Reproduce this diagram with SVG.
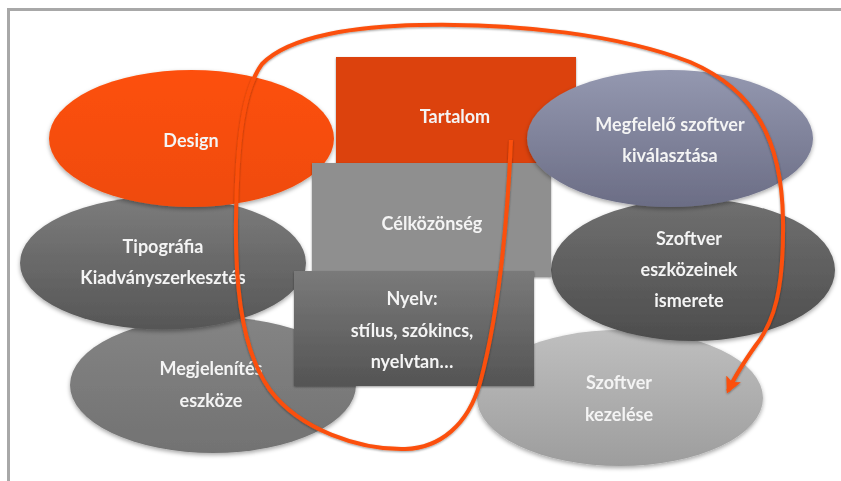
<svg xmlns="http://www.w3.org/2000/svg" width="841" height="481" viewBox="0 0 841 481">
<defs>
<style>
.t{font-family:Lato,"Open Sans","Liberation Sans",sans-serif;font-weight:700;font-size:18px;fill:#f4f4f4;text-anchor:middle}
</style>
<linearGradient id="gBlue" x1="0" y1="0" x2="0" y2="1"><stop offset="0" stop-color="#9498b0"/><stop offset="1" stop-color="#6b6d85"/></linearGradient>
<linearGradient id="gTip" x1="0" y1="0" x2="0" y2="1"><stop offset="0" stop-color="#7c7c7c"/><stop offset="1" stop-color="#565656"/></linearGradient>
<linearGradient id="gEsz" x1="0" y1="0" x2="0" y2="1"><stop offset="0" stop-color="#707070"/><stop offset="1" stop-color="#4d4d4d"/></linearGradient>
<linearGradient id="gMeg" x1="0" y1="0" x2="0" y2="1"><stop offset="0" stop-color="#848484"/><stop offset="1" stop-color="#727272"/></linearGradient>
<linearGradient id="gKez" x1="0" y1="0" x2="0" y2="1"><stop offset="0" stop-color="#bfbfbf"/><stop offset="1" stop-color="#9d9d9d"/></linearGradient>
<linearGradient id="gNy" x1="0" y1="0" x2="0" y2="1"><stop offset="0" stop-color="#7a7a7a"/><stop offset="1" stop-color="#545454"/></linearGradient>
<linearGradient id="gDes" x1="0" y1="0" x2="0" y2="1"><stop offset="0" stop-color="#fd500a"/><stop offset="1" stop-color="#ef4b0c"/></linearGradient>
<filter id="sh" x="-10%" y="-10%" width="120%" height="130%"><feDropShadow dx="0" dy="2" stdDeviation="2" flood-color="#000" flood-opacity="0.35"/></filter>
<filter id="lsh" x="-10%" y="-10%" width="120%" height="120%"><feDropShadow dx="0" dy="1" stdDeviation="1" flood-color="#000" flood-opacity="0.4"/></filter>
<marker id="arr" viewBox="0 0 12 12" refX="10" refY="6" markerWidth="4" markerHeight="4" orient="auto" markerUnits="strokeWidth">
<path d="M0,0 L12,6 L0,12 L2.5,6 Z" fill="#fb4f0a"/>
</marker>
</defs>
<rect x="8.5" y="9.5" width="900" height="500" fill="#fff" stroke="#a8a8a8" stroke-width="3"/>
<g id="megjelenites" filter="url(#sh)">
<ellipse cx="213" cy="385" rx="143" ry="68" fill="url(#gMeg)"/>
<text class="t" x="211" y="375">Megjelenítés</text>
<text class="t" x="211" y="407">eszköze</text>
</g>
<g id="tipografia" filter="url(#sh)">
<ellipse cx="163" cy="263" rx="143" ry="66.5" fill="url(#gTip)"/>
<text class="t" x="163" y="253">Tipográfia</text>
<text class="t" x="163" y="284">Kiadványszerkesztés</text>
</g>
<g id="design" filter="url(#sh)">
<ellipse cx="191.5" cy="138.5" rx="142.5" ry="68.5" fill="url(#gDes)"/>
<text class="t" x="191" y="147">Design</text>
</g>
<g id="kezelese" filter="url(#sh)">
<ellipse cx="620" cy="398" rx="143" ry="68" fill="url(#gKez)"/>
<text class="t" x="619" y="389">Szoftver</text>
<text class="t" x="619" y="421">kezelése</text>
</g>
<g id="eszkozeinek" filter="url(#sh)">
<ellipse cx="693" cy="270" rx="142" ry="71" fill="url(#gEsz)"/>
<text class="t" x="689" y="245">Szoftver</text>
<text class="t" x="689" y="276">eszközeinek</text>
<text class="t" x="689" y="307">ismerete</text>
</g>
<g id="tartalom" filter="url(#lsh)">
<rect x="336" y="57" width="240" height="110" fill="#dc4311"/>
<text class="t" x="455" y="123">Tartalom</text>
</g>
<g id="celkozonseg" filter="url(#lsh)">
<rect x="312" y="163" width="239" height="114" fill="#8f8f8f"/>
<text class="t" x="432" y="230">Célközönség</text>
</g>
<g id="nyelv" filter="url(#lsh)">
<rect x="294" y="271" width="240" height="115" fill="url(#gNy)"/>
<text class="t" x="412" y="305">Nyelv:</text>
<text class="t" x="412" y="337">stílus, szókincs,</text>
<text class="t" x="412" y="368">nyelvtan…</text>
</g>
<g id="megfelelo" filter="url(#sh)">
<ellipse cx="670" cy="138.5" rx="143" ry="68.5" fill="url(#gBlue)"/>
<text class="t" x="670" y="131">Megfelelő szoftver</text>
<text class="t" x="670" y="162">kiválasztása</text>
</g>
<g id="connectors">
<path d="M511,140 C507,230 497,320 480,383 C468,425 440,448 405,449 C360,450 300,430 270,390 C245,355 235,300 236,220 C237,140 243,90 262,64 C290,35 360,26 420,25 C520,23 620,35 690,62 C755,90 782,140 783,220 C784,290 774,322 756,345 C744,362 734,378 728,391" fill="none" stroke="#fb4f0a" stroke-width="4" marker-end="url(#arr)" filter="url(#lsh)"/>
</g>
</svg>
